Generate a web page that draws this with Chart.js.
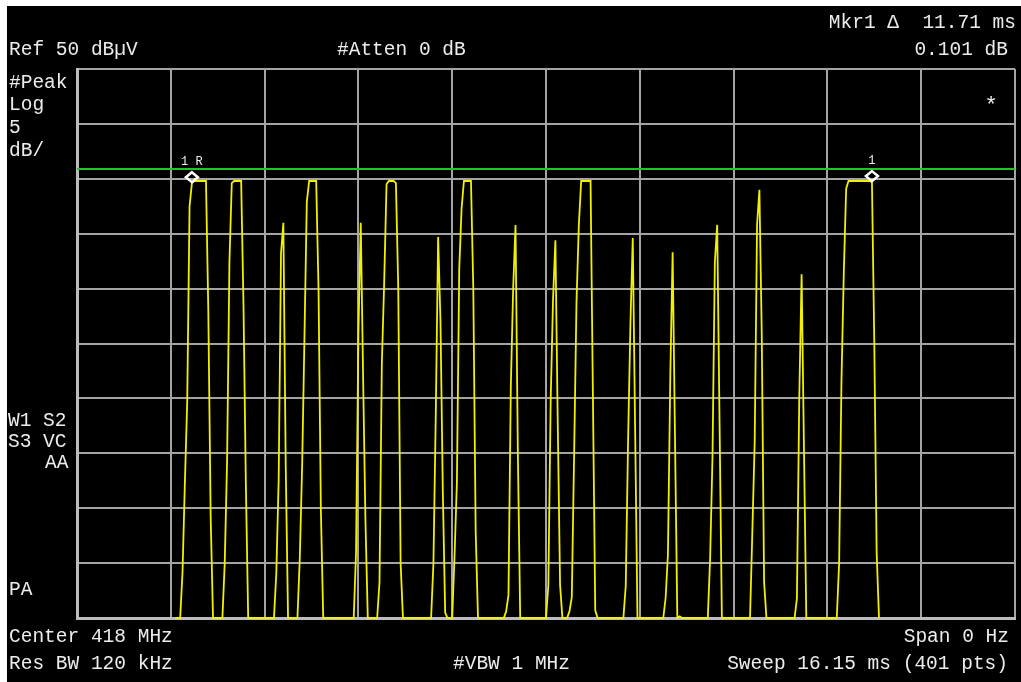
<!DOCTYPE html>
<html>
<head>
<meta charset="utf-8">
<title>Zero-span sweep, 418 MHz</title>
<script src="https://cdn.jsdelivr.net/npm/chart.js@4/dist/chart.umd.min.js"></script>
<style>
  html, body { margin: 0; padding: 0; background: #000; }
  #wrap { position: absolute; left: 0; top: 0; width: 1021px; height: 682px; }
  canvas { display: block; }
</style>
</head>
<body>
<div id="wrap"><canvas id="c" width="1021" height="682"></canvas></div>
<script>
// ---- sweep settings ----
const REF_LEVEL = 50;          // dBuV, top of the graticule
const DB_PER_DIV = 5;
const DIVISIONS = 10;
const SWEEP_POINTS = 401;      // trace points across 16.15 ms
const DISPLAY_LINE = 40.9;     // dBuV

// ---- trace amplitude, dBuV, one value per sweep point (0 .. 400) ----
// null = below the bottom of the screen, nothing drawn
const trace = [
  null,null,null,null,null, null,null,null,null,null, null,null,null,null,null, null,null,null,null,null, // 0-19
  null,null,null,null,null, null,null,null,null,null, null,null,null,null,null, null,null,null,null,null, // 20-39
  null,null,0,0,0, 4.2,12.3,19.7,37.5,39.6, 39.8,39.8,39.8,39.8,39.8, 39.8,27.9,9.2,0,0,  // 40-59
  0,0,0,5.0,14.3, 32.4,39.6,39.8,39.8,39.8, 39.8,28.5,12.3,0,0, 0,0,0,0,0,     // 60-79
  0,0,0,0,0, 4.1,12.6,33.2,36.0,14.0, 0,0,0,0,0, 5.4,13.8,25.6,37.9,39.8,      // 80-99
  39.8,39.8,39.8,29.9,9.8, 0,0,0,0,0, 0,0,0,0,0, 0,0,0,0,6.0,                  // 100-119
  25.8,36.0,22.0,8.9,0, 0,0,0,0,3.3, 23.2,30.6,39.5,39.8,39.8, 39.8,39.6,30.0,5.0,0, // 120-139
  0,0,0,0,0, 0,0,0,0,0, 0,0,5.0,18.6,34.7, 27.0,11.5,0.5,0,0,                  // 140-159
  0,5.7,12.3,31.8,37.3, 39.8,39.8,39.8,39.8,30.0, 8.0,0,0,0,0, 0,0,0,0,0,      // 160-179
  0,0,0,0.6,2.1, 21.1,30.0,35.8,15.0,0, 0,0,0,0,0, 0,0,0,0,0,                  // 180-199
  0,3.0,19.9,29.0,34.4, 17.9,3.0,0,0,0, 0.6,1.9,15.0,28.7,35.8, 39.8,39.8,39.8,39.8,39.8, // 200-219
  20.3,0.7,0,0,0, 0,0,0,0,0, 0,0,0,0,2.9, 16.1,26.8,34.6,17.3,0,               // 220-239
  0,0,0,0,0, 0,0,0,0,0, 0,1.8,5.8,22.0,33.3, 16.5,0,0.15,0,0,                  // 240-259
  0,0,0,0,0, 0,0,0,0,0, 5.5,14.7,32.4,35.8,18.0, 0,0,0,0,0,                    // 260-279
  0,0,0,0,0, 0,0,0,7.9,16.1, 35.8,39.0,25.9,3.3,0, 0,0,0,0,0,                  // 280-299
  0,0,0,0,0, 0,0,1.8,20.0,31.3, 15.5,0,0,0,0, 0,0,0,0,0,                       // 300-319
  0,0,0,0,0, 5.0,21.6,31.5,39.1,39.8, 39.8,39.8,39.8,39.8,39.8, 39.8,39.8,39.8,39.8,39.7, // 320-339
  25.0,6.0,0,null,null, null,null,null,null,null, null,null,null,null,null, null,null,null,null,null, // 340-359
  null,null,null,null,null, null,null,null,null,null, null,null,null,null,null, null,null,null,null,null, // 360-379
  null,null,null,null,null, null,null,null,null,null, null,null,null,null,null, null,null,null,null,null, // 380-399
  null                                                                          // 400
];
const pointIndex = trace.map((_, i) => i);

// ---- markers: reference 1R and delta marker 1 ----
const markerIndex = [49, 339];
const markerLabel = ['1R', '1'];

// ---- annotation text ----
const headerLines = ['Ref 50 dB\u00B5V', '#Atten 0 dB', 'Mkr1 \u0394  11.71 ms', '0.101 dB'];
const sideLines = ['#Peak', 'Log', '5', 'dB/', 'W1 S2', 'S3 VC', 'AA', 'PA'];
const footerLines = ['Center 418 MHz', 'Span 0 Hz', 'Res BW 120 kHz', '#VBW 1 MHz', 'Sweep 16.15 ms (401 pts)'];

const FONT = '"Liberation Mono", "DejaVu Sans Mono", monospace';
const TEXT_COLOR = '#ececec';

// page frame: white edge strips around the black screen
const frame = {
  id: 'frame',
  beforeDraw(chart) {
    const ctx = chart.ctx;
    ctx.save();
    ctx.fillStyle = '#ffffff';
    ctx.fillRect(0, 0, chart.width, chart.height);
    ctx.fillStyle = '#000000';
    ctx.fillRect(7, 6, chart.width - 7, chart.height - 6);
    ctx.restore();
  }
};

// green display line across the graticule
const displayLine = {
  id: 'displayLine',
  beforeDatasetsDraw(chart) {
    const { ctx, chartArea: a, scales: { y } } = chart;
    const py = Math.round(y.getPixelForValue(DISPLAY_LINE));
    ctx.save();
    ctx.strokeStyle = '#1ec81e';
    ctx.lineWidth = 2;
    ctx.beginPath();
    ctx.moveTo(a.left, py);
    ctx.lineTo(a.right, py);
    ctx.stroke();
    ctx.restore();
  }
};

// diamond markers with their labels
const markers = {
  id: 'markers',
  afterDatasetsDraw(chart) {
    const { ctx, scales: { x, y } } = chart;
    ctx.save();
    markerIndex.forEach((idx, k) => {
      const px = x.getPixelForValue(idx);
      const py = y.getPixelForValue(trace[idx]);
      const cy = py - 6;
      ctx.strokeStyle = '#ffffff';
      ctx.lineWidth = 2.5;
      ctx.beginPath();
      ctx.moveTo(px, cy - 5);
      ctx.lineTo(px + 6, cy);
      ctx.lineTo(px, cy + 5);
      ctx.lineTo(px - 6, cy);
      ctx.closePath();
      ctx.stroke();
      ctx.fillStyle = TEXT_COLOR;
      ctx.font = '12px ' + FONT;
      ctx.textAlign = 'center';
      ctx.textBaseline = 'alphabetic';
      ctx.fillText(markerLabel[k].split('').join(' '), px, cy - 12);
    });
    ctx.restore();
  }
};

// instrument annotation around the graticule
const annotations = {
  id: 'annotations',
  afterDraw(chart) {
    const ctx = chart.ctx;
    ctx.save();
    ctx.fillStyle = TEXT_COLOR;
    ctx.font = '19.5px ' + FONT;
    ctx.textBaseline = 'alphabetic';
    const put = (t, x, y, align) => { ctx.textAlign = align; ctx.fillText(t, x, y); };
    put(headerLines[0], 9, 55, 'left');
    put(headerLines[1], 337, 55, 'left');
    put(headerLines[2], 1016, 28, 'right');
    put(headerLines[3], 1008, 55, 'right');
    put(sideLines[0], 9, 88, 'left');
    put(sideLines[1], 9, 110, 'left');
    put(sideLines[2], 9, 133, 'left');
    put(sideLines[3], 9, 156, 'left');
    put(sideLines[4], 8, 426, 'left');
    put(sideLines[5], 8, 447, 'left');
    put(sideLines[6], 45, 468, 'left');
    put(sideLines[7], 9, 595, 'left');
    put(footerLines[0], 9, 642, 'left');
    put(footerLines[1], 1009, 642, 'right');
    put(footerLines[2], 9, 669, 'left');
    put(footerLines[3], 453, 669, 'left');
    put(footerLines[4], 1008, 669, 'right');
    // measurement-pending asterisk
    ctx.textAlign = 'center';
    ctx.font = '22px ' + FONT;
    ctx.fillText('*', 991, 112);
    ctx.restore();
  }
};

new Chart(document.getElementById('c'), {
  type: 'line',
  data: {
    labels: pointIndex,
    datasets: [{
      data: trace.map((v, i) => ({ x: i, y: v })),
      borderColor: '#f0f000',
      borderWidth: 1.8,
      pointRadius: 0,
      tension: 0,
      fill: false,
      spanGaps: false,
      clip: 4
    }]
  },
  options: {
    responsive: false,
    animation: false,
    devicePixelRatio: 1,
    layout: { padding: { left: 77, top: 69, right: 6, bottom: 64 } },
    plugins: { legend: { display: false }, tooltip: { enabled: false } },
    scales: {
      x: {
        type: 'linear',
        min: 0,
        max: SWEEP_POINTS - 1,
        ticks: { display: false, stepSize: (SWEEP_POINTS - 1) / DIVISIONS },
        grid: { color: '#a4a4a4', lineWidth: 2, drawTicks: false, tickLength: 0 },
        border: { display: true, color: '#bcbcbc', width: 3 }
      },
      y: {
        type: 'linear',
        min: REF_LEVEL - DB_PER_DIV * DIVISIONS,
        max: REF_LEVEL,
        ticks: { display: false, stepSize: DB_PER_DIV },
        grid: { color: '#a4a4a4', lineWidth: 2, drawTicks: false, tickLength: 0 },
        border: { display: true, color: '#bcbcbc', width: 3 }
      }
    }
  },
  plugins: [frame, displayLine, markers, annotations]
});
</script>
</body>
</html>
